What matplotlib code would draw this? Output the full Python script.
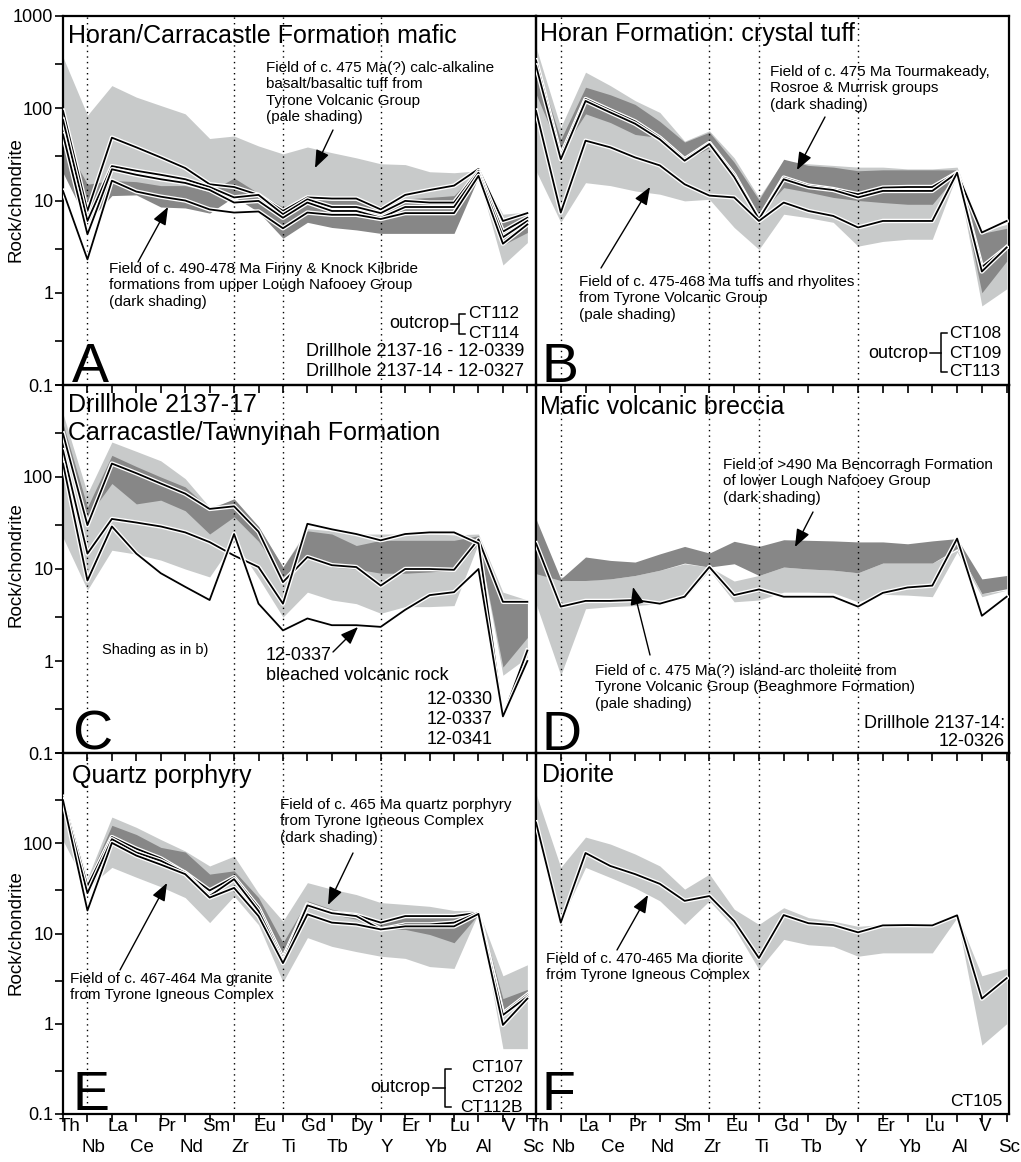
import matplotlib.pyplot as plt
import matplotlib.patheffects as pe
from matplotlib.ticker import NullFormatter
import numpy as np

plt.rcParams['font.family'] = ['Liberation Sans', 'DejaVu Sans']

elements = ['Th', 'Nb', 'La', 'Ce', 'Pr', 'Nd', 'Sm', 'Zr', 'Eu', 'Ti',
            'Gd', 'Tb', 'Dy', 'Y', 'Er', 'Yb', 'Lu', 'Al', 'V', 'Sc']
guide_elements = ['Nb', 'Zr', 'Ti', 'Y']

PALE = '#c8caca'
DARK = '#878787'

# A - Horan/Carracastle Formation mafic
a_pale_hi = [358, 84, 176, 132, 107, 87, 47, 50, 39, 32, 38, 33, 29, 25, 24.5, 20.5, 20, 21, 7.1, 7.5]
a_pale_lo = [24, 7, 14, 13.5, 12, 11.5, 10, 12, 9.5, 7, 8.5, 8, 8, 7.5, 7.5, 7.5, 8, 18, 2.0, 3.5]
a_dark_hi = [45, 15, 16.5, 16, 14.5, 14.5, 12.5, 17.5, 12, 8.5, 10.8, 10, 10, 8.4, 10.4, 10.8, 11.3, 21.5, 6.5, 7.1]
a_dark_lo = [20, 5.8, 11.3, 11.5, 8.5, 8.3, 7.3, 11, 7.5, 3.9, 5.8, 5.1, 4.8, 4.4, 4.4, 4.4, 4.4, 18, 3.3, 4.5]
a_ct112 = [94, 7.7, 48, 37.7, 29.3, 22.5, 15, 14, 11.5, 7.7, 10.8, 10.5, 10.5, 8, 11.5, 13, 14.5, 22, 6.0, 7.3]
a_ct114 = [75, 6.0, 23.6, 21, 19, 17, 14, 10.8, 11.5, 7.1, 10.3, 8.5, 8.5, 7.3, 9.9, 9.5, 9.5, 21, 4.6, 6.5]
a_0339 = [52, 4.3, 21.8, 19, 17, 15.5, 13, 9.5, 9.9, 6.5, 9.5, 7.7, 7.7, 6.5, 8.5, 8.5, 8.5, 20, 4.0, 6.0]
a_0327 = [12.7, 2.3, 16.4, 12.5, 11, 10, 8, 7.4, 7.6, 5.0, 7.4, 7.0, 7.0, 6.3, 7.3, 7.3, 7.3, 18.5, 3.4, 5.5]

# B - Horan Formation: crystal tuff
b_pale_hi = [460, 62, 246, 176, 121, 90, 44, 57, 29, 10.8, 27, 25, 24, 23, 23, 22, 22, 23, 4.7, 5.5]
b_pale_lo = [21, 5.8, 15.6, 14.5, 12.7, 11.7, 9.9, 10.3, 5.1, 2.95, 7.1, 6.5, 5.8, 3.2, 3.6, 3.8, 3.8, 19.3, 0.72, 1.1]
b_dark_hi = [316, 46, 169, 140, 110, 72, 43, 55, 26, 10.2, 28, 24, 23, 21, 21.5, 21.5, 21.5, 21.5, 4.4, 5.0]
b_dark_lo = [143, 33, 87, 70, 52, 48, 27, 37.5, 19, 7.0, 13.8, 12.3, 10.8, 10, 9.5, 9.1, 9.1, 19, 1.0, 2.2]
b_ct108 = [330, 30.5, 126, 95, 72, 48, 28, 42, 19, 6.3, 17.7, 14.5, 13.3, 11.7, 13.8, 14, 14, 20, 4.5, 6.0]
b_ct109 = [290, 28, 120, 90, 68, 46, 27, 41, 18, 6.3, 17, 14, 13, 10.8, 12.7, 12.7, 12.7, 20, 1.9, 3.1]
b_ct113 = [94, 7.4, 44.5, 37.7, 29.3, 24, 15, 11.3, 10.8, 6.0, 9.5, 7.7, 6.8, 5.1, 6.0, 6.0, 6.0, 20, 1.7, 3.1]

# C - Drillhole 2137-17
c_pale_hi = [488, 66, 240, 190, 150, 96, 47, 56, 29, 10.5, 27.5, 26, 24, 24, 24, 24, 23.5, 24, 5.6, 4.6]
c_pale_lo = [22, 5.9, 16, 14.5, 12.5, 10, 8.2, 20, 8, 3.0, 5.6, 4.6, 4.2, 3.3, 3.9, 3.9, 4.0, 19, 0.7, 1.1]
c_dark_hi = [380, 47, 172, 130, 100, 78, 45, 58, 29, 10.5, 26, 24, 18, 20.5, 20.5, 20.5, 20.5, 23, 4.2, 4.6]
c_dark_lo = [212, 37, 85, 51, 56, 43, 24, 37, 20, 8.2, 14, 10.5, 10, 9, 9, 9.3, 9.7, 19, 0.86, 1.8]
c_0330 = [296, 30, 140, 110, 85, 66, 45, 48, 25.5, 7.2, 13.5, 11, 10.5, 6.6, 10, 10, 9.8, 21, 4.4, 4.4]
c_0341 = [195, 14.7, 35, 32, 29, 25, 19.6, 14, 10.5, 4.2, 31, 27, 24, 20.5, 24, 25, 25, 19, 0.25, 1.3]
c_0337 = [140, 7.5, 29, 14.7, 9, 6.4, 4.6, 24, 4.2, 2.15, 2.9, 2.45, 2.45, 2.35, 3.6, 5.2, 5.6, 10, 0.25, 1.0]

# D - Mafic volcanic breccia
d_pale_hi = [9.6, 8.2, 7.6, 7.8, 8.5, 9.7, 11.4, 10.5, 7.4, 8.5, 10.5, 10, 9.7, 9.1, 11.6, 11.6, 11.6, 16, 5.4, 5.9]
d_pale_lo = [4.2, 0.7, 3.7, 3.9, 4.0, 4.2, 4.8, 9.7, 4.4, 4.6, 5.6, 5.6, 5.5, 4.4, 5.3, 5.2, 5.0, 15.3, 5.0, 5.9]
d_dark_hi = [35, 7.8, 13.5, 12.4, 11.9, 14.6, 17.6, 14.9, 20, 17.6, 20.8, 20.5, 20.2, 19.7, 19.7, 18.8, 20.2, 21.4, 7.8, 8.5]
d_dark_lo = [8.9, 7.5, 7.5, 7.8, 8.5, 9.7, 11.6, 10.5, 11.4, 8.5, 10.5, 10, 9.7, 9.1, 11.6, 11.6, 11.6, 16.7, 5.4, 6.1]
d_0326 = [19, 3.9, 4.5, 4.5, 4.6, 4.2, 5.0, 10.5, 5.2, 6.0, 5.0, 5.0, 5.0, 3.9, 5.5, 6.3, 6.6, 21.4, 3.1, 5.0]

# E - Quartz porphyry
e_pale_hi = [330, 41, 195, 150, 110, 82, 56, 72, 28, 13.7, 36.6, 31, 27, 22, 21, 20, 18, 18, 3.4, 4.5]
e_pale_lo = [107, 32, 54, 42, 33, 25, 13.2, 26, 12.5, 2.9, 9, 7.2, 6.3, 5.6, 5.3, 4.3, 4.1, 17, 0.53, 0.53]
e_dark_hi = [300, 38, 158, 125, 90, 80, 45.5, 49.5, 25, 7.9, 23, 18.6, 16.3, 13.2, 16.3, 16.3, 16.3, 18, 1.9, 2.4]
e_dark_lo = [300, 31, 111, 85, 64, 47, 32, 38, 19.3, 5.8, 19.3, 16.3, 14.4, 11.1, 11.1, 9.75, 7.9, 16.3, 1.25, 2.1]
e_ct107 = [326, 33.5, 117, 87, 68, 47, 30, 42, 19.3, 5.3, 21, 17, 16, 13.2, 15.6, 15.6, 15.6, 17, 1.3, 2.1]
e_ct202 = [310, 28, 111, 79, 64, 47, 26, 40, 17.8, 4.9, 20.5, 16.8, 15.6, 11.1, 12.6, 12.6, 13.2, 17, 1.25, 2.0]
e_ct112b = [300, 18, 101, 73, 58, 45.5, 25, 32, 15.6, 4.7, 16.3, 13.2, 12.6, 11.1, 12, 12, 12, 16.5, 0.97, 1.9]

# F - Diorite
f_pale_hi = [355, 54, 117, 98, 76, 56, 31, 45.5, 18.6, 12.6, 19.3, 15, 13.7, 12, 12.6, 12.6, 12.6, 16.3, 3.4, 4.1]
f_pale_lo = [150, 13.7, 54, 41.7, 32, 23, 12.6, 23, 11.6, 4, 8.6, 7.5, 7.2, 5.6, 6.1, 6.1, 6.1, 15, 0.58, 1.0]
f_ct105 = [170, 13.2, 78, 56, 45.5, 35.5, 23, 26, 13.7, 5.35, 16, 13, 12.4, 10.3, 12.3, 12.4, 12.3, 15.9, 1.9, 3.2]

panels = [
    ([(a_pale_lo, a_pale_hi, PALE), (a_dark_lo, a_dark_hi, DARK)], [a_ct112, a_ct114, a_0339, a_0327]),
    ([(b_pale_lo, b_pale_hi, PALE), (b_dark_lo, b_dark_hi, DARK)], [b_ct108, b_ct109, b_ct113]),
    ([(c_pale_lo, c_pale_hi, PALE), (c_dark_lo, c_dark_hi, DARK)], [c_0330, c_0341, c_0337]),
    ([(d_pale_lo, d_pale_hi, PALE), (d_dark_lo, d_dark_hi, DARK)], [d_0326]),
    ([(e_pale_lo, e_pale_hi, PALE), (e_dark_lo, e_dark_hi, DARK)], [e_ct107, e_ct202, e_ct112b]),
    ([(f_pale_lo, f_pale_hi, PALE)], [f_ct105]),
]

W, H = 1021, 1162
fig = plt.figure(figsize=(W / 100, H / 100), dpi=100)

# panel edges in pixels: columns (left, right, element spacing), rows (top, bottom)
cols = [(63, 536, 24.44), (536, 1009, 24.77)]
rows = [(16, 385), (385, 753), (753, 1114)]

halo = [pe.Stroke(linewidth=3.2, foreground='white'), pe.Normal()]
xs = np.arange(len(elements))

for k, (fields, samples) in enumerate(panels):
    r, c = divmod(k, 2)
    x0, x1, step = cols[c]
    y0, y1 = rows[r]
    ax = fig.add_axes([x0 / W, 1 - y1 / H, (x1 - x0) / W, (y1 - y0) / H])
    ax.set_facecolor('none')
    for lo, hi, col in fields:
        ax.fill_between(xs, lo, hi, color=col, lw=0, zorder=1)
    for el in guide_elements:
        ax.axvline(elements.index(el), color='k', lw=1.0, ls=(0, (1, 3)), zorder=2)
    for s in samples:
        ax.plot(xs, s, color='k', lw=1.3, zorder=3, path_effects=halo)
    ax.set_yscale('log')
    ax.set_ylim(0.1, 1000)
    ax.set_xlim(0, (x1 - x0) / step)
    ax.set_xticks(xs)
    ax.tick_params(axis='x', direction='out', length=6, width=1.2, labelbottom=False)
    for sp in ax.spines.values():
        sp.set_linewidth(1.6)
    if c == 0:
        ax.set_yticks([0.1, 1, 10, 100, 1000])
        ax.set_yticklabels(['0.1', '1', '10', '100', '1000' if r == 0 else ''])
        ax.set_yticks([0.3, 3, 30, 300], minor=True)
        ax.yaxis.set_minor_formatter(NullFormatter())
        ax.tick_params(axis='y', which='both', direction='out', length=6, width=1.2,
                       labelsize=13, pad=1)
    else:
        ax.tick_params(axis='y', which='both', left=False, labelleft=False)
    if r == 2:
        shift = 0.25 if c == 0 else 0.12
        for i, el in enumerate(elements):
            ax.text(i + shift, -0.036 if i % 2 == 0 else -0.092, el,
                    transform=ax.get_xaxis_transform(), ha='center', va='center',
                    fontsize=13.5)

# overlay in pixel coordinates for titles, notes and arrows
ov = fig.add_axes([0, 0, 1, 1], zorder=10)
ov.set_xlim(0, W)
ov.set_ylim(H, 0)
ov.axis('off')
ov.patch.set_alpha(0)


def note(x, y, s, size=11, **kw):
    ov.text(x, y, s, fontsize=size, va='top', ha='left', linespacing=1.22, **kw)


def arrow(tail, head):
    ov.annotate('', xy=head, xytext=tail,
                arrowprops=dict(arrowstyle='-|>,head_length=0.9,head_width=0.35',
                                mutation_scale=12, lw=1.0, color='k',
                                shrinkA=0, shrinkB=0))


def label(x, y, s, size=13, ha='left'):
    ov.text(x, y, s, fontsize=size, va='center', ha=ha)


def bracket(xh0, x, ytop, ybot, ymid):
    ov.plot([xh0, x], [ymid, ymid], color='k', lw=1.1)
    ov.plot([x + 6, x, x, x + 6], [ytop, ytop, ybot, ybot], color='k', lw=1.1)


for y in (200, 565, 933):
    ov.text(16, y, 'Rock/chondrite', rotation=90, fontsize=13.5, ha='center', va='center')

for x, y, s in [(72, 382, 'A'), (541, 382, 'B'), (72, 750, 'C'),
                (541, 750, 'D'), (72, 1110, 'E'), (541, 1110, 'F')]:
    ov.text(x, y, s, fontsize=40, ha='left', va='baseline')

# A
label(68, 36, 'Horan/Carracastle Formation mafic', 18)
note(266, 61, 'Field of c. 475 Ma(?) calc-alkaline\nbasalt/basaltic tuff from\n'
     'Tyrone Volcanic Group\n(pale shading)')
arrow((333, 130), (315, 168))
note(109, 262, 'Field of c. 490-478 Ma Finny & Knock Kilbride\n'
     'formations from upper Lough Nafooey Group\n(dark shading)')
arrow((138, 262), (168, 207))
label(449, 324, 'outcrop', ha='right')
bracket(451, 459, 314, 334, 324)
label(468, 313, 'CT112', 12.5)
label(468, 334, 'CT114', 12.5)
label(306, 351, 'Drillhole 2137-16 - 12-0339')
label(306, 371, 'Drillhole 2137-14 - 12-0327')

# B
label(540, 34, 'Horan Formation: crystal tuff', 18)
note(770, 65, 'Field of c. 475 Ma Tourmakeady,\nRosroe & Murrisk groups\n(dark shading)')
arrow((825, 117), (797, 170))
note(579, 275, 'Field of c. 475-468 Ma tuffs and rhyolites\nfrom Tyrone Volcanic Group\n'
     '(pale shading)')
arrow((601, 268), (650, 187))
label(928, 353, 'outcrop', ha='right')
bracket(930, 941, 333, 372, 353)
label(949, 333, 'CT108', 12.5)
label(949, 353, 'CT109', 12.5)
label(949, 372, 'CT113', 12.5)

# C
label(68, 405, 'Drillhole 2137-17', 18)
label(68, 433, 'Carracastle/Tawnyinah Formation', 18)
label(102, 650, 'Shading as in b)', 10.5)
label(266, 655, '12-0337')
label(266, 676, 'bleached volcanic rock')
arrow((333, 652), (358, 627))
label(427, 700, '12-0330')
label(427, 720, '12-0337')
label(427, 740, '12-0341')

# D
label(540, 407, 'Mafic volcanic breccia', 18)
note(723, 458, 'Field of >490 Ma Bencorragh Formation\nof lower Lough Nafooey Group\n'
     '(dark shading)')
arrow((813, 512), (795, 547))
note(595, 664, 'Field of c. 475 Ma(?) island-arc tholeiite from\n'
     'Tyrone Volcanic Group (Beaghmore Formation)\n(pale shading)')
arrow((650, 655), (633, 587))
label(1005, 723, 'Drillhole 2137-14:', ha='right')
label(1005, 741, '12-0326', ha='right')

# E
label(72, 776, 'Quartz porphyry', 18)
note(280, 798, 'Field of c. 465 Ma quartz porphyry\nfrom Tyrone Igneous Complex\n(dark shading)')
arrow((353, 853), (328, 905))
note(70, 972, 'Field of c. 467-464 Ma granite\nfrom Tyrone Igneous Complex')
arrow((120, 970), (167, 883))
label(430, 1088, 'outcrop', ha='right')
bracket(433, 445, 1069, 1107, 1088)
label(523, 1068, 'CT107', 12.5, ha='right')
label(523, 1088, 'CT202', 12.5, ha='right')
label(523, 1107, 'CT112B', 12.5, ha='right')

# F
label(542, 775, 'Diorite', 18)
note(546, 952, 'Field of c. 470-465 Ma diorite\nfrom Tyrone Igneous Complex')
arrow((617, 950), (648, 895))
label(1002, 1102, 'CT105', 12.5, ha='right')

fig.savefig('out.png', dpi=100, facecolor='white')
